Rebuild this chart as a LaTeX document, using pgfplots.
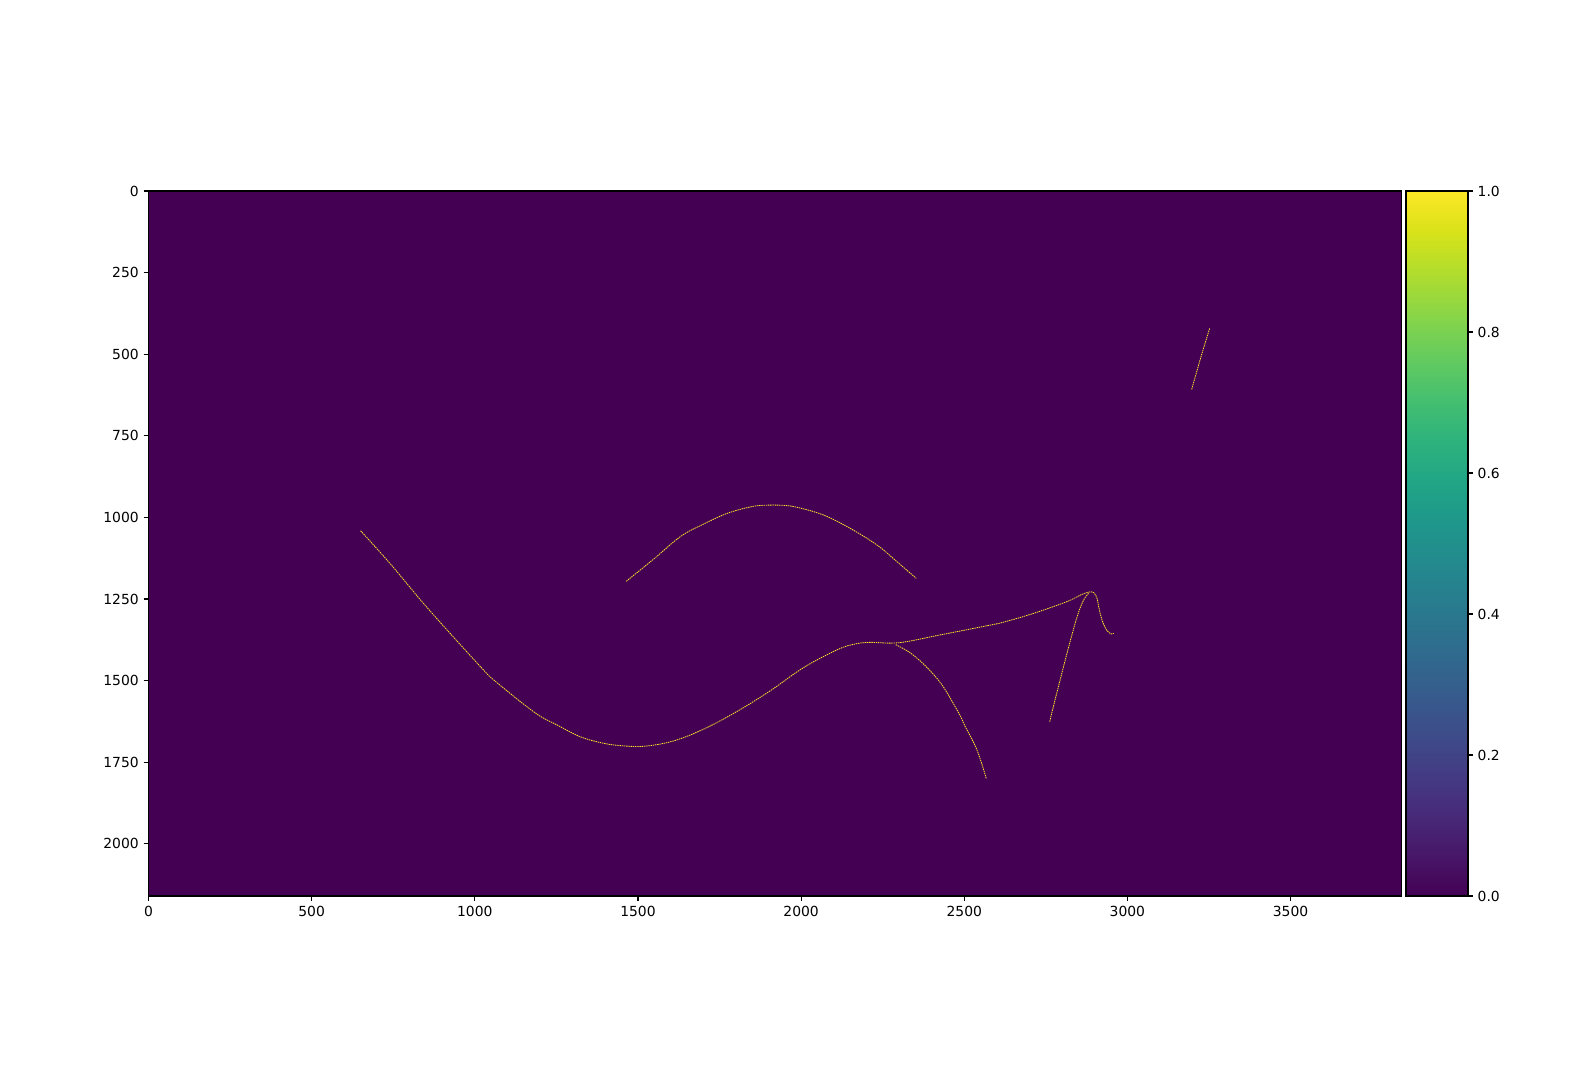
\documentclass[border=0pt]{standalone}
\usepackage{fontspec}
\setmainfont{DejaVu Sans}
\usepackage{pgfplots}
\pgfplotsset{compat=1.18}
\pgfplotsset{/pgf/number format/assume math mode=true}
\definecolor{vlow}{HTML}{440154}
\definecolor{vhigh}{HTML}{FDE725}
\begin{document}
\begin{tikzpicture}
  \useasboundingbox (0,0) rectangle (1140.5pt,782.6pt);
  \begin{axis}[
      at={(106.9pt,137.5pt)}, anchor=south west,
      scale only axis,
      width=902.2pt, height=507.6pt,
      xmin=0, xmax=3840, ymin=0, ymax=2160,
      y dir=reverse,
      enlargelimits=false,
      axis on top,
      axis line style={line width=0.8pt},
      xtick={0,500,...,3500},
      ytick={0,250,...,2000},
      xtick pos=bottom, ytick pos=left,
      tick align=outside,
      major tick length=3.5pt,
      tick style={line width=0.8pt, black},
      scaled ticks=false,
      xticklabel style={/pgf/number format/1000 sep={}},
      yticklabel style={/pgf/number format/1000 sep={}},
      colormap name=viridis,
      point meta min=0, point meta max=1,
      colorbar,
      colorbar/width=44.6pt,
      colorbar style={
          at={(parent axis.north east)}, anchor=north west,
          xshift=-5.3pt,
          ytick={0,0.2,...,1},
          ytick pos=right,
          tick align=outside,
          major tick length=3.5pt,
          axis line style={line width=0.8pt},
          tick style={line width=0.8pt, black},
          yticklabel style={/pgf/number format/.cd, fixed, fixed zerofill, precision=1},
      },
      line cap=butt,
    ]
    % empty frame (all zeros)
    \addplot[fill=vlow, draw=none, forget plot]
      coordinates {(0,0) (3840,0) (3840,2160) (0,2160)} -- cycle;

    % long lower curve, on to the peak and the hook
    \addplot[vhigh, line width=0.6pt, dash pattern=on 1pt off 0.6pt, smooth, tension=0.6, forget plot]
      coordinates {
        (650,1041) (740,1141) (838,1258) (924,1355) (1027,1468) (1052,1493)
        (1108,1539) (1144,1568) (1200,1609) (1252,1636) (1323,1672) (1394,1692)
        (1454,1700) (1522,1701) (1609,1685) (1701,1649) (1803,1595) (1906,1531)
        (2008,1460) (2110,1406) (2161,1389) (2210,1383) (2300,1384) (2427,1360)
        (2580,1330) (2621,1321) (2713,1294) (2815,1258) (2856,1238) (2882,1229)
        (2897,1231) (2907,1248) (2912,1274) (2922,1314) (2936,1345) (2950,1357)
        (2958,1355)
      };

    % branch going down
    \addplot[vhigh, line width=0.6pt, dash pattern=on 1pt off 0.6pt, smooth, tension=0.6, forget plot]
      coordinates {
        (2290,1390) (2330,1412) (2365,1440) (2401,1476) (2437,1521) (2485,1603)
        (2501,1637) (2539,1713) (2568,1802)
      };

    % branch going up to the peak
    \addplot[vhigh, line width=0.6pt, dash pattern=on 1pt off 0.6pt, smooth, tension=0.6, forget plot]
      coordinates {
        (2762,1626) (2771,1588) (2815,1416) (2846,1304) (2866,1253) (2882,1232)
      };

    % upper arch
    \addplot[vhigh, line width=0.6pt, dash pattern=on 1pt off 0.6pt, smooth, tension=0.6, forget plot]
      coordinates {
        (1464,1196) (1548,1128) (1630,1059) (1696,1023) (1773,988) (1844,968)
        (1887,963) (1941,963) (1987,969) (2069,993) (2151,1034) (2233,1085)
        (2294,1136) (2353,1187)
      };

    % short stroke, upper right
    \addplot[vhigh, line width=0.6pt, dash pattern=on 1pt off 0.6pt, smooth, forget plot]
      coordinates {(3197,608) (3224,513) (3252,421)};
  \end{axis}
\end{tikzpicture}
\end{document}
